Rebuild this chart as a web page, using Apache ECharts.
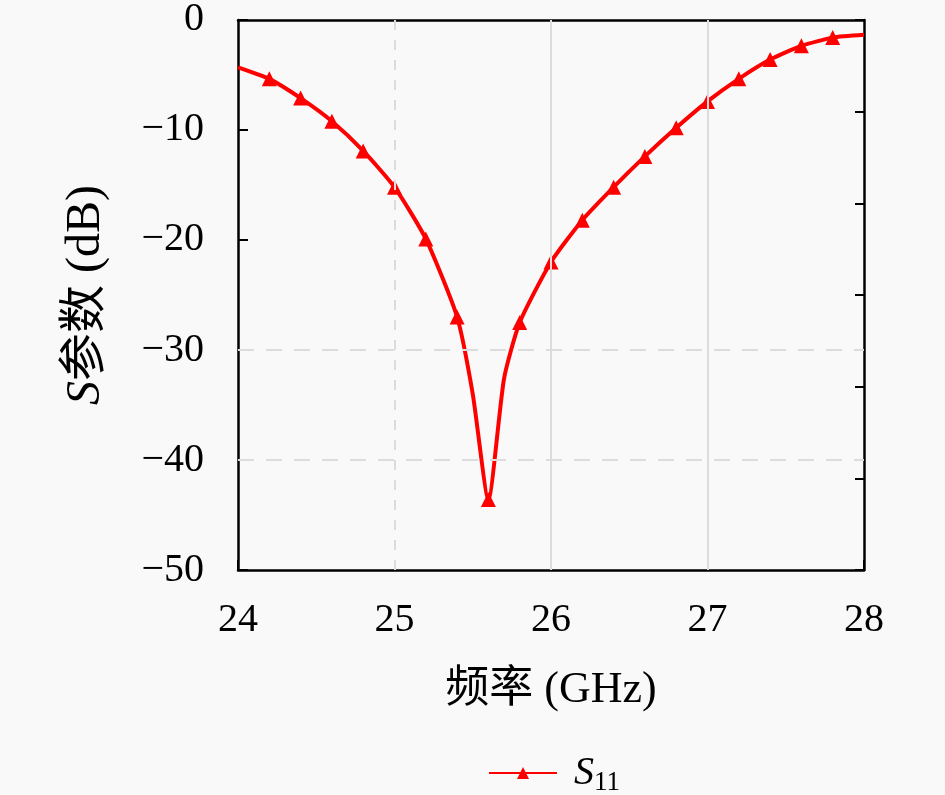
<!DOCTYPE html>
<html>
<head>
<meta charset="utf-8">
<script src="https://cdn.jsdelivr.net/npm/echarts@6/dist/echarts.min.js"></script>
<style>
  html, body { margin: 0; padding: 0; background: #f9f9f9; }
  #chart { width: 945px; height: 795px; }
</style>
</head>
<body>
<div id="chart"></div>
<script>
// 频率 (GHz) 与 S11 (dB)
var freq = [24.0, 24.2, 24.4, 24.6, 24.8, 25.0, 25.2, 25.4, 25.5, 25.6, 25.7, 25.8, 26.0, 26.2, 26.4, 26.6, 26.8, 27.0, 27.2, 27.4, 27.6, 27.8, 28.0]
var s11 = [-4.3, -5.35, -7.1, -9.2, -11.9, -15.2, -19.9, -27.0, -34.0, -43.6, -32.6, -27.5, -22.0, -18.2, -15.2, -12.4, -9.8, -7.4, -5.35, -3.6, -2.35, -1.6, -1.35]
// 有标记的频点
var markFreq = [24.2, 24.4, 24.6, 24.8, 25.0, 25.2, 25.4, 25.6, 25.8, 26.0, 26.2, 26.4, 26.6, 26.8, 27.0, 27.2, 27.4, 27.6, 27.8]
// 网格线
var xGridSolid = [26, 27]
var xGridDashed = [25]
var yGridDashed = [-30, -40]

var serif = "'Liberation Serif', 'DejaVu Serif', 'Noto Sans CJK SC', serif"
var myChart = echarts.init(document.getElementById('chart'))

var minus = function (v) {
  return v < 0 ? '\u2212' + Math.abs(v) : '' + v
}

var gridLines = []
xGridSolid.forEach(function (x) {
  gridLines.push({ xAxis: x, lineStyle: { type: 'solid' } })
})
xGridDashed.forEach(function (x) {
  gridLines.push({ xAxis: x, lineStyle: { type: [10, 10] } })
})
yGridDashed.forEach(function (y) {
  gridLines.push({ yAxis: y, lineStyle: { type: [16, 12] } })
})

var lineData = freq.map(function (f, i) {
  var item = { value: [f, s11[i]] }
  if (markFreq.indexOf(f) < 0) item.symbol = 'none'
  return item
})

const option = {
  backgroundColor: '#f9f9f9',
  animation: false,
  grid: { left: 238, right: 81, top: 19, bottom: 225 },
  legend: {
    left: 483,
    top: 748,
    itemWidth: 68,
    itemHeight: 15,
    data: ['S11'],
    formatter: function () { return '{i|S}{s|11}' },
    textStyle: {
      fontFamily: serif,
      color: '#000',
      rich: {
        i: { fontSize: 40, fontStyle: 'italic', fontFamily: serif, color: '#000', padding: [0, 0, 0, 12] },
        s: { fontSize: 27, fontFamily: serif, color: '#000', padding: [20, 0, 0, 0] }
      }
    }
  },
  xAxis: [
    {
      type: 'value',
      min: 24,
      max: 28,
      interval: 1,
      name: '频率 (GHz)',
      nameLocation: 'middle',
      nameGap: 98,
      nameTextStyle: { fontSize: 44, fontFamily: serif, color: '#000' },
      axisLine: { show: true, onZero: false, lineStyle: { color: '#000', width: 2.5 } },
      axisTick: { show: true, inside: true, length: 10, lineStyle: { color: '#000', width: 2 } },
      axisLabel: { fontSize: 40, fontFamily: serif, color: '#000', margin: 30 },
      splitLine: { show: false }
    },
    {
      type: 'value',
      position: 'top',
      min: 24,
      max: 28,
      interval: 1,
      axisLine: { show: true, onZero: false, lineStyle: { color: '#000', width: 2.5 } },
      axisTick: { show: false },
      axisLabel: { show: false },
      splitLine: { show: false }
    }
  ],
  yAxis: [
    {
      type: 'value',
      min: -50,
      max: 0,
      interval: 10,
      name: '{i|S}参数 (dB)',
      nameLocation: 'middle',
      nameGap: 128,
      nameTextStyle: {
        fontSize: 48,
        fontFamily: serif,
        color: '#000',
        rich: {
          i: { fontSize: 48, fontStyle: 'italic', fontFamily: serif, color: '#000' }
        }
      },
      axisLine: { show: true, onZero: false, lineStyle: { color: '#000', width: 2.5 } },
      axisTick: { show: true, inside: true, length: 10, lineStyle: { color: '#000', width: 2 } },
      axisLabel: { fontSize: 40, fontFamily: serif, color: '#000', margin: 34, formatter: minus },
      splitLine: { show: false }
    },
    {
      type: 'value',
      position: 'right',
      min: -60,
      max: 0,
      interval: 10,
      axisLine: { show: true, onZero: false, lineStyle: { color: '#000', width: 2.5 } },
      axisTick: { show: true, inside: true, length: 9, lineStyle: { color: '#000', width: 2 } },
      axisLabel: { show: false },
      splitLine: { show: false }
    }
  ],
  series: [
    {
      name: 'S11',
      type: 'line',
      xAxisIndex: 0,
      yAxisIndex: 0,
      data: lineData,
      smooth: 0.2,
      symbol: 'triangle',
      symbolSize: 15,
      showAllSymbol: true,
      lineStyle: { color: '#ff0000', width: 4 },
      itemStyle: { color: '#ff0000' },
      markLine: {
        silent: true,
        symbol: 'none',
        label: { show: false },
        lineStyle: { color: '#dcdcdc', width: 2 },
        data: gridLines
      },
      z: 3
    }
  ]
}
myChart.setOption(option)
</script>
</body>
</html>
